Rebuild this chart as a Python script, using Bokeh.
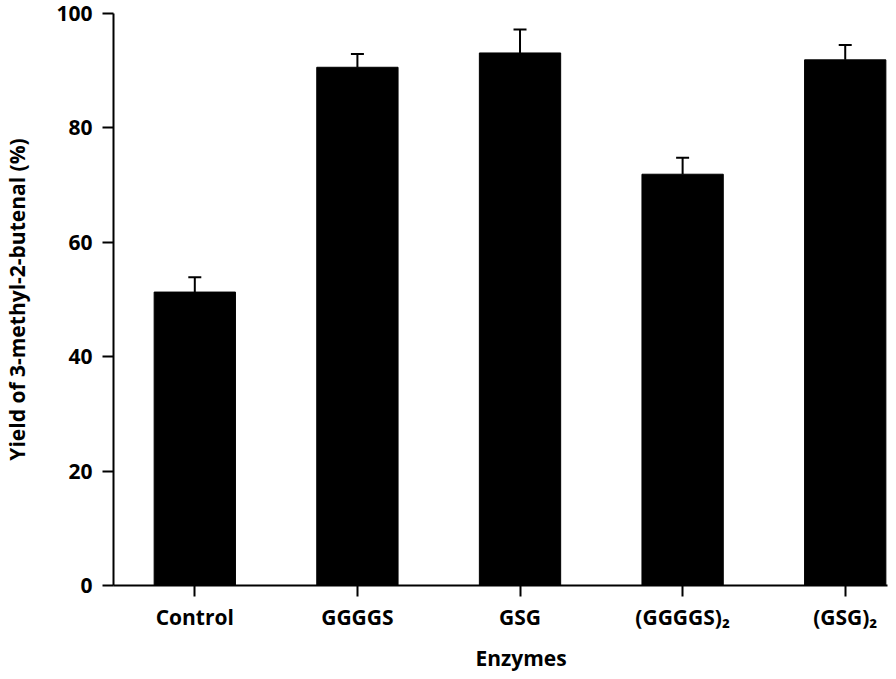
from bokeh.plotting import figure
from bokeh.models import (ColumnDataSource, Range1d, FixedTicker, Whisker, TeeHead, Title)
from bokeh.embed import file_html
from bokeh.resources import INLINE

categories = ["Control", "GGGGS", "GSG", "(GGGGS)\u2082", "(GSG)\u2082"]
yields = [51.3, 90.6, 93.1, 71.9, 91.9]
errors = [2.6, 2.3, 4.1, 2.9, 2.6]
y_ticks = [0, 20, 40, 60, 80, 100]

FONT = "Open Sans"

xs = list(range(len(categories)))
src = ColumnDataSource(dict(
    x=xs, top=yields, upper=[v + e for v, e in zip(yields, errors)]))

p = figure(width=888, height=679, output_backend="svg", toolbar_location=None,
           x_range=Range1d(-0.5, 4.26), y_range=Range1d(0, 100),
           min_border_left=111, min_border_right=1, min_border_top=13,
           min_border_bottom=93)
p.outline_line_color = None
p.xgrid.grid_line_color = None
p.ygrid.grid_line_color = None
p.background_fill_color = "white"

p.vbar(x="x", top="top", width=0.5, bottom=0, source=src,
       fill_color="black", line_color="black", line_width=1)

w = Whisker(source=src, base="x", lower="top", upper="upper", dimension="height",
            line_color="black", line_width=2,
            upper_head=TeeHead(size=13, line_width=2, line_color="black"),
            lower_head=None)
p.add_layout(w)

for ax in (p.xaxis[0], p.yaxis[0]):
    ax.axis_line_width = 2
    ax.axis_line_color = "black"
    ax.major_tick_line_width = 2
    ax.major_tick_line_color = "black"
    ax.major_tick_out = 11
    ax.major_tick_in = 0
    ax.minor_tick_line_color = None
    ax.major_label_text_font = FONT
    ax.major_label_text_font_style = "bold"
    ax.major_label_text_font_size = "21px"
    ax.major_label_text_color = "black"

p.yaxis.ticker = FixedTicker(ticks=y_ticks)
p.yaxis.major_label_standoff = 10
p.yaxis.axis_label = "Yield of 3-methyl-2-butenal (%)"
p.yaxis.axis_label_text_font = FONT
p.yaxis.axis_label_text_font_style = "bold"
p.yaxis.axis_label_text_font_size = "21px"
p.yaxis.axis_label_text_color = "black"
p.yaxis.axis_label_standoff = 22

p.xaxis.ticker = FixedTicker(ticks=xs)
p.xaxis.major_label_overrides = {i: c for i, c in zip(xs, categories)}
p.xaxis.major_label_standoff = 6

p.add_layout(Title(text="Enzymes", align="left", offset=362, standoff=16,
                   text_font=FONT, text_font_style="bold",
                   text_font_size="21px", text_color="black"), "below")

open("out.html", "w").write(file_html(p, INLINE))
